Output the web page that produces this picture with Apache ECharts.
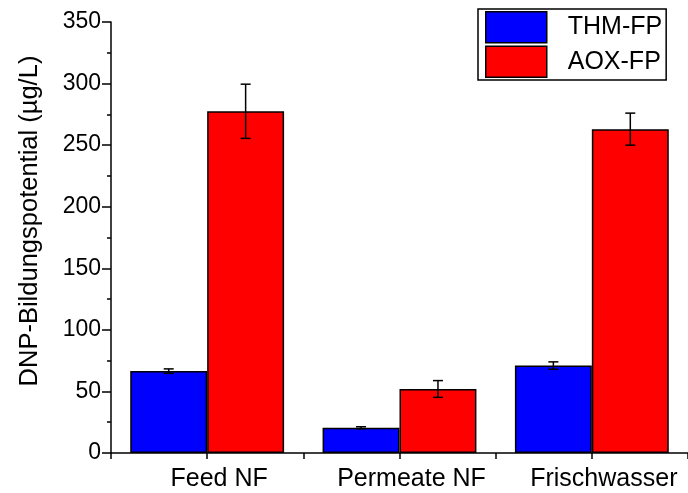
<!DOCTYPE html>
<html>
<head>
<meta charset="utf-8">
<script src="https://cdn.jsdelivr.net/npm/echarts@6/dist/echarts.min.js"></script>
<style>html,body{margin:0;padding:0;background:#fff}#c{width:688px;height:493px}</style>
</head>
<body>
<div id="c"></div>
<script>
const categories = ['Feed NF', 'Permeate NF', 'Frischwasser'];
const thmValues = [66.5, 20.5, 71];
const thmErrors = [1.8, 0.8, 3];
const aoxValues = [277.5, 52, 263];
const aoxErrors = [22, 6.8, 13];
const yTicks = [0, 50, 100, 150, 200, 250, 300, 350];
const yTitle = 'DNP-Bildungspotential (µg/L)';

const FONT = 'Liberation Sans, Arial, sans-serif';
const chart = echarts.init(document.getElementById('c'));

function errData(vals, errs) {
  return vals.map((v, i) => [i, v - errs[i], v + errs[i]]);
}
function errSeries(name, vals, errs, side) {
  return {
    type: 'custom',
    name: name + ' err',
    xAxisIndex: 0, yAxisIndex: 0,
    z: 10,
    silent: true,
    data: errData(vals, errs),
    encode: { x: 0, y: [1, 2] },
    renderItem: function (params, api) {
      const i = api.value(0);
      const lo = api.coord([i, api.value(1)]);
      const hi = api.coord([i, api.value(2)]);
      const bw = api.size([1, 0])[0];
      const x = lo[0] + side * bw * 0.2;
      const cap = 5;
      const st = { stroke: '#000', lineWidth: 1.5 };
      return {
        type: 'group',
        children: [
          { type: 'line', shape: { x1: x, y1: lo[1], x2: x, y2: hi[1] }, style: st },
          { type: 'line', shape: { x1: x - cap, y1: lo[1], x2: x + cap, y2: lo[1] }, style: st },
          { type: 'line', shape: { x1: x - cap, y1: hi[1], x2: x + cap, y2: hi[1] }, style: st }
        ]
      };
    }
  };
}

chart.setOption({
  animation: false,
  backgroundColor: '#fff',
  textStyle: { fontFamily: FONT },
  grid: { left: 111, right: 0, top: 22, bottom: 40 },
  legend: {
    data: ['THM-FP', 'AOX-FP'],
    orient: 'vertical',
    left: 478, top: 9,
    itemWidth: 61, itemHeight: 31, itemGap: 2,
    padding: [2, 4, 2, 7],
    borderColor: '#000', borderWidth: 1.5,
    backgroundColor: '#fff',
    icon: 'rect',
    itemStyle: { borderColor: '#000', borderWidth: 1.5 },
    textStyle: { fontSize: 25, color: '#000', fontFamily: FONT, padding: [0, 0, 0, 16] }
  },
  graphic: [{
    type: 'text',
    x: 30, y: 221,
    rotation: Math.PI / 2,
    style: {
      text: yTitle, fill: '#000', font: '25.5px ' + FONT,
      align: 'center', verticalAlign: 'middle'
    }
  }],
  xAxis: [
    {
      type: 'category',
      data: categories,
      axisLine: { lineStyle: { color: '#000', width: 1.5 } },
      axisTick: { show: false },
      axisLabel: { color: '#000', fontSize: 25, margin: 14, fontFamily: FONT, interval: 0, padding: [0, 0, 0, 24] }
    },
    {
      type: 'value',
      min: 0, max: 6, interval: 1,
      position: 'bottom',
      axisLine: { show: false },
      axisTick: { show: true, length: 6, lineStyle: { color: '#000', width: 1.5 } },
      axisLabel: { show: false },
      splitLine: { show: false }
    }
  ],
  yAxis: {
    type: 'value',
    min: 0, max: 350, interval: 50,
    axisLine: { show: true, lineStyle: { color: '#000', width: 1.5 } },
    axisTick: { show: true, length: 9, lineStyle: { color: '#000', width: 1.5 } },
    minorTick: { show: true, splitNumber: 2, length: 4, lineStyle: { color: '#000', width: 1.5 } },
    splitLine: { show: false },
    axisLabel: {
      color: '#000', fontSize: 23, margin: 10, fontFamily: FONT,
      formatter: v => yTicks.includes(v) ? String(v) : ''
    }
  },
  series: [
    {
      name: 'THM-FP', type: 'bar', data: thmValues,
      barGap: 0, barCategoryGap: '20%',
      itemStyle: { color: '#0000ff', borderColor: '#000', borderWidth: 1.5 }
    },
    {
      name: 'AOX-FP', type: 'bar', data: aoxValues,
      barGap: 0, barCategoryGap: '20%',
      itemStyle: { color: '#ff0000', borderColor: '#000', borderWidth: 1.5 }
    },
    errSeries('THM-FP', thmValues, thmErrors, -1),
    errSeries('AOX-FP', aoxValues, aoxErrors, 1)
  ]
});
</script>
</body>
</html>
